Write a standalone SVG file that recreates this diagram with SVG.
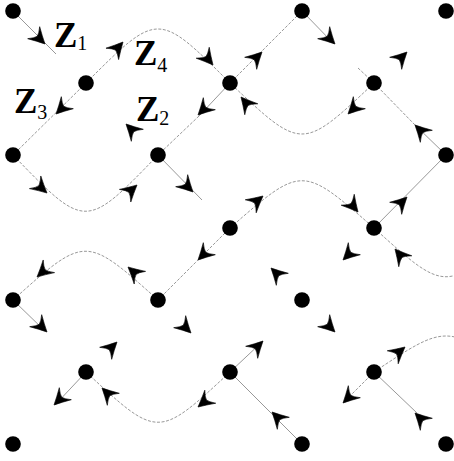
<svg xmlns="http://www.w3.org/2000/svg" xmlns:xlink="http://www.w3.org/1999/xlink" width="454" height="461" viewBox="0 0 454 461">
<defs>
<style>
.ln{fill:none;stroke:#8c8c8c;stroke-width:0.9}
.cv{fill:none;stroke:#8c8c8c;stroke-width:0.9;stroke-dasharray:3 1.6}
.dot{fill:#000}
.z{font-family:"Liberation Serif","DejaVu Serif",serif;font-weight:bold;font-size:35px;fill:#000}
.s{font-family:"Liberation Serif","DejaVu Serif",serif;font-size:20px;fill:#000}
</style>
<path id="ah" d="M0,0 C-5,-2.5 -11,-5.5 -16,-8.5 Q-11.5,-3 -11,0 Q-11.5,3 -16,8.5 C-11,5.5 -5,2.5 0,0 Z" fill="#000" stroke="#000" stroke-width="0.6" stroke-linejoin="round"/>
</defs>
<rect width="454" height="461" fill="#fff"/>
<g id="connectors">
<line class="ln" x1="13" y1="11" x2="56" y2="54"/>
<line class="cv" x1="86" y1="83" x2="13" y2="155"/>
<line class="ln" x1="230" y1="83" x2="199" y2="116"/>
<line class="cv" x1="199" y1="116" x2="158" y2="155"/>
<line class="cv" x1="230" y1="83" x2="302" y2="11"/>
<line class="ln" x1="302" y1="11" x2="334" y2="44"/>
<line class="cv" x1="358" y1="68" x2="374" y2="83"/>
<line class="ln" x1="446" y1="155" x2="415" y2="125"/>
<line class="cv" x1="415" y1="125" x2="374" y2="83"/>
<line class="ln" x1="158" y1="155" x2="202" y2="200"/>
<line class="cv" x1="225" y1="233" x2="158" y2="300"/>
<line class="ln" x1="374" y1="228" x2="446" y2="155"/>
<line class="ln" x1="13" y1="300" x2="45" y2="331"/>
<line class="ln" x1="86" y1="372" x2="55" y2="405"/>
<line class="ln" x1="230" y1="372" x2="263" y2="341"/>
<line class="ln" x1="302" y1="444" x2="230" y2="372"/>
<line class="cv" x1="374" y1="372" x2="343" y2="403"/>
<line class="ln" x1="374" y1="372" x2="417" y2="413"/>
<path class="cv" d="M86,83 C158,11 158,11 230,83"/>
<path class="cv" d="M374,83 C302,151 302,151 230,83"/>
<path class="cv" d="M13,155 C85.5,230 85.5,230 158,155"/>
<path class="cv" d="M158,300 C85.5,235 85.5,235 13,300"/>
<path class="cv" d="M230,228 C302,165 302,165 374,228"/>
<path class="cv" d="M230,372 C158,439 158,439 86,372"/>
<path class="cv" d="M374,228 C446,293 446,293 518,228"/>
<path class="cv" d="M374,372 C446,324 446,324 518,372"/>
</g>
<g id="arrowheads">
<use href="#ah" transform="translate(45,44) rotate(45)"/>
<use href="#ah" transform="translate(123,42) rotate(-48)"/>
<use href="#ah" transform="translate(213,65) rotate(50)"/>
<use href="#ah" transform="translate(56,114) rotate(135)"/>
<use href="#ah" transform="translate(198,115) rotate(135)"/>
<use href="#ah" transform="translate(126,124) rotate(-135)"/>
<use href="#ah" transform="translate(262,52) rotate(-45)"/>
<use href="#ah" transform="translate(335,44) rotate(45)"/>
<use href="#ah" transform="translate(407,52) rotate(-45)"/>
<use href="#ah" transform="translate(348,114) rotate(135)"/>
<use href="#ah" transform="translate(241,97) rotate(-130)"/>
<use href="#ah" transform="translate(415,125) rotate(-135)"/>
<use href="#ah" transform="translate(47,193) rotate(42)"/>
<use href="#ah" transform="translate(137,185) rotate(-42)"/>
<use href="#ah" transform="translate(193,192) rotate(45)"/>
<use href="#ah" transform="translate(198,260) rotate(135)"/>
<use href="#ah" transform="translate(128,267) rotate(-138)"/>
<use href="#ah" transform="translate(37,277) rotate(138)"/>
<use href="#ah" transform="translate(263,196) rotate(-40)"/>
<use href="#ah" transform="translate(358,212) rotate(50)"/>
<use href="#ah" transform="translate(407,197) rotate(-45)"/>
<use href="#ah" transform="translate(395,249) rotate(-130)"/>
<use href="#ah" transform="translate(343,260) rotate(135)"/>
<use href="#ah" transform="translate(271,268) rotate(-135)"/>
<use href="#ah" transform="translate(47,332) rotate(45)"/>
<use href="#ah" transform="translate(191,333) rotate(45)"/>
<use href="#ah" transform="translate(117,342) rotate(-45)"/>
<use href="#ah" transform="translate(54,405) rotate(135)"/>
<use href="#ah" transform="translate(102,388) rotate(-135)"/>
<use href="#ah" transform="translate(198,407) rotate(140)"/>
<use href="#ah" transform="translate(335,332) rotate(45)"/>
<use href="#ah" transform="translate(263,341) rotate(-45)"/>
<use href="#ah" transform="translate(272,412) rotate(-135)"/>
<use href="#ah" transform="translate(405,347) rotate(-40)"/>
<use href="#ah" transform="translate(343,403) rotate(135)"/>
<use href="#ah" transform="translate(415,413) rotate(-135)"/>
</g>
<g id="nodes">
<circle id="n1" class="dot" cx="13" cy="11" r="7.8"/>
<circle id="n2" class="dot" cx="302" cy="11" r="7.8"/>
<circle id="n3" class="dot" cx="446" cy="11" r="7.8"/>
<circle id="n4" class="dot" cx="86" cy="83" r="7.8"/>
<circle id="n5" class="dot" cx="230" cy="83" r="7.8"/>
<circle id="n6" class="dot" cx="374" cy="83" r="7.8"/>
<circle id="n7" class="dot" cx="13" cy="155" r="7.8"/>
<circle id="n8" class="dot" cx="158" cy="155" r="7.8"/>
<circle id="n9" class="dot" cx="446" cy="155" r="7.8"/>
<circle id="n10" class="dot" cx="230" cy="228" r="7.8"/>
<circle id="n11" class="dot" cx="374" cy="228" r="7.8"/>
<circle id="n12" class="dot" cx="13" cy="300" r="7.8"/>
<circle id="n13" class="dot" cx="158" cy="300" r="7.8"/>
<circle id="n14" class="dot" cx="302" cy="300" r="7.8"/>
<circle id="n15" class="dot" cx="86" cy="372" r="7.8"/>
<circle id="n16" class="dot" cx="230" cy="372" r="7.8"/>
<circle id="n17" class="dot" cx="374" cy="372" r="7.8"/>
<circle id="n18" class="dot" cx="13" cy="444" r="7.8"/>
<circle id="n19" class="dot" cx="302" cy="444" r="7.8"/>
<circle id="n20" class="dot" cx="446" cy="444" r="7.8"/>
</g>
<g id="labels">
<text x="54" y="47"><tspan class="z">Z</tspan><tspan class="s" dy="3">1</tspan></text>
<text x="134" y="65"><tspan class="z">Z</tspan><tspan class="s" dy="7">4</tspan></text>
<text x="14" y="113"><tspan class="z">Z</tspan><tspan class="s" dy="6">3</tspan></text>
<text x="136" y="121"><tspan class="z">Z</tspan><tspan class="s" dy="4">2</tspan></text>
</g>
</svg>
